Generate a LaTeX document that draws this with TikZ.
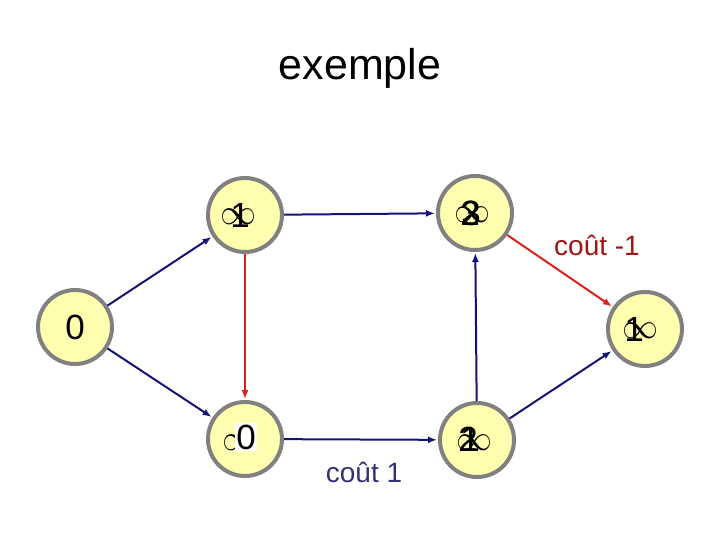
\documentclass[tikz,border=0pt]{standalone}
\usepackage{graphicx}
\usepackage{fontspec}
\setmainfont{Liberation Sans}
\usetikzlibrary{arrows.meta}
\definecolor{nodefill}{RGB}{255,255,175}
\definecolor{nodeedge}{RGB}{128,128,128}
\definecolor{navy}{RGB}{20,20,120}
\definecolor{redarc}{RGB}{225,30,30}
\definecolor{redtxt}{RGB}{160,20,20}
\definecolor{bluetxt}{RGB}{50,50,120}
\newcommand{\myinf}{\scalebox{3.6}{$\infty$}}
\tikzset{
  vertex/.style={circle, draw=nodeedge, line width=4pt, fill=nodefill, minimum size=74pt, inner sep=0pt},
  inf/.style={inner sep=0pt},
  num/.style={inner sep=0pt, font=\fontsize{35}{40}\selectfont},
  arc/.style={navy, line width=2pt, -{Latex[length=9pt,width=7pt]}, shorten >=1pt},
  redarcs/.style={arc, redarc},
}
\begin{document}
\begin{tikzpicture}[x=1pt,y=-1pt]
\useasboundingbox (0,0) rectangle (720,540);
\node[font=\fontsize{43}{48}\selectfont] (title) at (360,68) {exemple};
\node[vertex] (n0) at (75,327) {};
\node[vertex] (n1) at (245,215) {};
\node[vertex] (n2) at (475,213) {};
\node[vertex] (n3) at (245,439) {};
\node[vertex] (n4) at (645,329) {};
\node[vertex] (n5) at (477,440) {};
% texts
\node[num] (t0) at (75,327) {0};
\node[inf] (i1) at (238,217) {\myinf};
\node[num] (t1) at (240,215) {1};
\node[inf] (i2) at (472,215) {\myinf};
\node[num] (t2a) at (470,213) {2};
\node[num] (t2b) at (471,213) {3};
\node[inf] (i3) at (240,443) {\myinf};
\node[num, fill=white, inner xsep=1pt, inner ysep=2pt] (t3) at (246,437) {0};
\node[inf] (i4) at (640,331) {\myinf};
\node[num] (t4) at (634,329) {1};
\node[inf] (i5) at (474,443) {\myinf};
\node[num] (t5a) at (468,439) {2};
\node[num] (t5b) at (470,439) {1};
% arcs
\draw[arc] (n0) -- (n1);
\draw[arc] (n0) -- (n3);
\draw[arc] (n1) -- (n2);
\draw[redarcs] (n1) -- (n3);
\draw[arc] (n3) -- (n5);
\draw[arc] (n5) -- (n2);
\draw[redarcs] (n2) -- (n4);
\draw[arc] (n5) -- (n4);
% labels
\node[font=\fontsize{28}{32}\selectfont, text=redtxt] (l1) at (597,245) {coût -1};
\node[font=\fontsize{28}{32}\selectfont, text=bluetxt] (l2) at (364,472) {coût 1};
\end{tikzpicture}
\end{document}
